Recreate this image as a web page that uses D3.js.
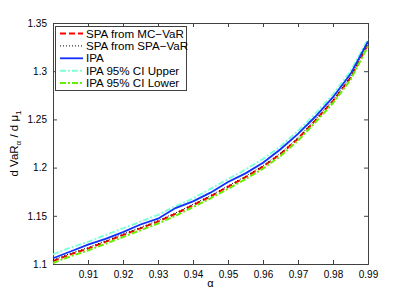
<!DOCTYPE html>
<html><head><meta charset="utf-8">
<script src="https://cdn.jsdelivr.net/npm/d3@7"></script>
<style>body{margin:0;background:#fff}svg{display:block}text{font-family:"Liberation Sans",Arial,Helvetica,sans-serif}</style>
</head><body>
<script>
const alphas = [0.900,0.905,0.910,0.915,0.920,0.925,0.930,0.935,0.940,0.945,0.950,0.955,0.960,0.965,0.970,0.975,0.980,0.985,0.990];
const spaMC  = [1.103,1.110,1.116,1.123,1.130,1.137,1.144,1.152,1.161,1.170,1.180,1.190,1.201,1.214,1.230,1.249,1.269,1.293,1.328];
const spaSPA = [1.104,1.111,1.117,1.124,1.131,1.138,1.145,1.153,1.162,1.171,1.181,1.191,1.202,1.215,1.231,1.250,1.270,1.294,1.329];
const ipa    = [1.106,1.113,1.120,1.126,1.133,1.141,1.147,1.158,1.165,1.174,1.185,1.194,1.205,1.219,1.235,1.253,1.273,1.297,1.331];
const ciUp   = [1.110,1.117,1.123,1.130,1.137,1.144,1.151,1.160,1.168,1.178,1.188,1.198,1.209,1.222,1.238,1.256,1.276,1.300,1.333];
const ciLow  = [1.101,1.108,1.114,1.121,1.128,1.135,1.142,1.150,1.159,1.168,1.178,1.188,1.199,1.212,1.228,1.247,1.267,1.291,1.326];
const xTicks = [0.91,0.92,0.93,0.94,0.95,0.96,0.97,0.98,0.99];
const yTicks = [1.1,1.15,1.2,1.25,1.3,1.35];
const seriesNames = ["SPA from MC\u2212VaR","SPA from SPA\u2212VaR","IPA","IPA 95% CI Upper","IPA 95% CI Lower"];

const W=407,H=299;
const m={l:53,r:39,t:23,b:35};
const svg=d3.select("body").append("svg").attr("width",W).attr("height",H);
const x=d3.scaleLinear().domain([0.9,0.99]).range([m.l,W-m.r]);
const y=d3.scaleLinear().domain([1.1,1.35]).range([H-m.b,m.t]);
const axCol="#404040";

const gx=svg.append("g").attr("transform",`translate(0,${H-m.b})`)
  .call(d3.axisBottom(x).tickValues(xTicks).tickSize(-4).tickPadding(7).tickFormat(d3.format(".2f")));
const gxt=svg.append("g").attr("transform",`translate(0,${m.t})`)
  .call(d3.axisTop(x).tickValues(xTicks).tickSize(-4).tickFormat(""));
const gy=svg.append("g").attr("transform",`translate(${m.l},0)`)
  .call(d3.axisLeft(y).tickValues(yTicks).tickSize(-4).tickPadding(6).tickFormat(d=>String(d)));
const gyr=svg.append("g").attr("transform",`translate(${W-m.r},0)`)
  .call(d3.axisRight(y).tickValues(yTicks).tickSize(-4).tickFormat(""));
[gx,gxt,gy,gyr].forEach(g=>{
  g.select(".domain").attr("stroke",axCol);
  g.selectAll(".tick line").attr("stroke",axCol);
  g.selectAll(".tick text").attr("fill","#000").style("font-size","10px");
});

const specs=[
 {d:spaMC, c:"#ff0000", w:2, dash:"6,3"},
 {d:spaSPA,c:"#000000", w:1, dash:"1,2"},
 {d:ciUp,  c:"#80ffd8", w:2, dash:"6,2,2,2"},
 {d:ciLow, c:"#66ee00", w:2, dash:"6,2,2,2"},
 {d:ipa,   c:"#1030ff", w:1.8, dash:null},
];
const line=d3.line().x((d,i)=>x(alphas[i])).y(d=>y(d));
specs.forEach(s=>{
  svg.append("path").datum(s.d).attr("d",line).attr("fill","none")
   .attr("stroke",s.c).attr("stroke-width",s.w).attr("stroke-dasharray",s.dash);
});

const lg=svg.append("g");
lg.append("rect").attr("x",55.5).attr("y",26.5).attr("width",131).attr("height",64)
  .attr("fill","#fff").attr("stroke",axCol);
const legOrder=[specs[0],specs[1],specs[4],specs[2],specs[3]];
legOrder.forEach((s,i)=>{
  const yy=33.5+i*12.4;
  lg.append("line").attr("x1",60).attr("x2",83).attr("y1",yy).attr("y2",yy)
    .attr("stroke",s.c).attr("stroke-width",s.w).attr("stroke-dasharray",s.dash);
  lg.append("text").attr("x",86).attr("y",yy).attr("dy","0.35em").style("font-size","11.6px").text(seriesNames[i]);
});

svg.append("text").attr("x",(m.l+W-m.r)/2).attr("y",287).attr("text-anchor","middle").style("font-size","11px").text("\u03b1");
const yl=svg.append("text").attr("transform",`translate(18,${(m.t+H-m.b)/2}) rotate(-90)`)
  .attr("text-anchor","middle").style("font-size","11.5px");
yl.append("tspan").text("d VaR");
yl.append("tspan").attr("dy",3).style("font-size","8px").text("\u03b1");
yl.append("tspan").attr("dy",-3).text(" / d \u03bc");
yl.append("tspan").attr("dy",3).style("font-size","8px").text("1");
</script>
</body></html>
